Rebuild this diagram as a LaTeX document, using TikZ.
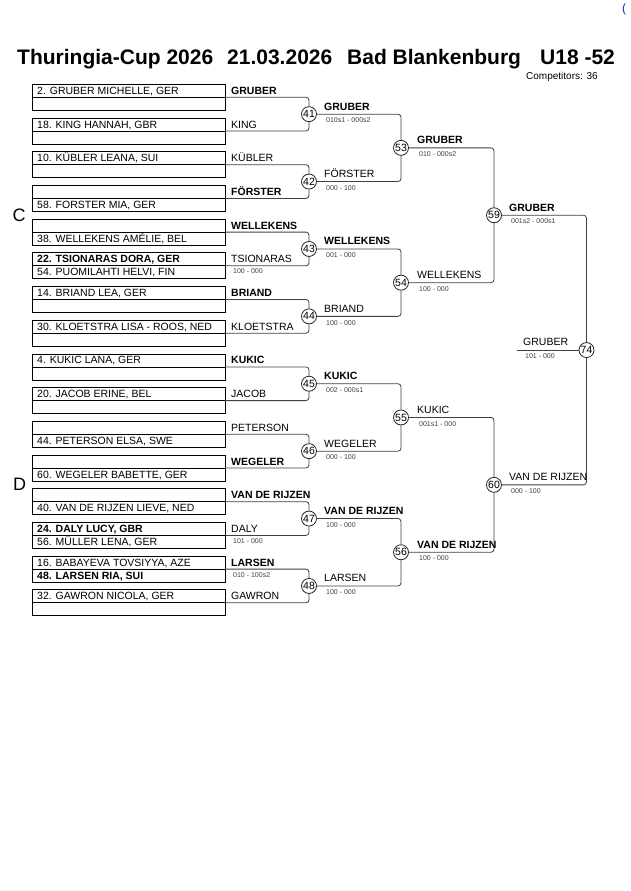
\documentclass[tikz,border=0pt]{standalone}
\usepackage{fontspec}
\setmainfont{Liberation Sans}
\begin{document}
\begin{tikzpicture}[x=1pt,y=-1pt,
  entrybox/.style={draw=black,line width=0.8pt,minimum width=193pt,minimum height=26pt,inner sep=0pt,outer sep=0pt},
  divider/.style={draw=black,line width=0.8pt},
  etext/.style={anchor=base west,inner sep=0pt,font=\fontsize{10.5}{12}\selectfont},
  ebold/.style={anchor=base west,inner sep=0pt,font=\fontsize{10.5}{12}\selectfont\bfseries},
  score/.style={anchor=base west,inner sep=0pt,font=\fontsize{7}{8}\selectfont,text=black!75},
  mcircle/.style={circle,draw=black!85,line width=0.8pt,fill=white,minimum size=15pt,inner sep=0pt,font=\fontsize{10.5}{12}\selectfont},
  bracket/.style={draw=black!75,line width=0.8pt,rounded corners=3pt},
  titletext/.style={anchor=base west,inner sep=0pt,font=\fontsize{21}{24}\selectfont\bfseries},
  pooltext/.style={anchor=base west,inner sep=0pt,font=\fontsize{18}{20}\selectfont},
]
\useasboundingbox (0,0) rectangle (630,891);
\fill[white] (0,0) rectangle (630,891);

% header
\node[anchor=base west,inner sep=0pt,font=\fontsize{12}{14}\selectfont,text={rgb,255:red,20;green,40;blue,190}] (corner) at (622,13) {(};
\node[titletext] (ti1) at (17,65) {Thuringia-Cup 2026};
\node[titletext] (ti2) at (227,65) {21.03.2026};
\node[titletext] (ti3) at (347,65) {Bad Blankenburg};
\node[titletext] (ti4) at (540,65) {U18 -52};
\node[anchor=base west,inner sep=0pt,font=\fontsize{10}{12}\selectfont] (comp) at (526,79.3) {Competitors: 36};
\node[pooltext] (poolC) at (12.5,221) {C};
\node[pooltext] (poolD) at (13,490) {D};

% entry boxes
\foreach \k/\yc in {0/97.3,1/131.0,2/164.7,3/198.4,4/232.1,5/265.8,6/299.5,7/333.2,8/366.9,9/400.6,10/434.3,11/468.0,12/501.7,13/535.4,14/569.1,15/602.8}{
  \node[entrybox] (b\k) at (128.5,\yc) {};
  \draw[divider] (b\k.west) -- (b\k.east);
}

% entry texts
\node[etext] (e0) at (37,94.3) {2. GRUBER MICHELLE, GER};
\node[etext] (e1) at (37,128.0) {18. KING HANNAH, GBR};
\node[etext] (e2) at (37,161.7) {10. KÜBLER LEANA, SUI};
\node[etext] (e3) at (37,208.4) {58. FORSTER MIA, GER};
\node[etext] (e4) at (37,242.1) {38. WELLEKENS AMÉLIE, BEL};
\node[ebold] (e5a) at (37,262.8) {22. TSIONARAS DORA, GER};
\node[etext] (e5b) at (37,275.8) {54. PUOMILAHTI HELVI, FIN};
\node[etext] (e6) at (37,296.5) {14. BRIAND LEA, GER};
\node[etext] (e7) at (37,330.2) {30. KLOETSTRA LISA - ROOS, NED};
\node[etext] (e8) at (37,363.9) {4. KUKIC LANA, GER};
\node[etext] (e9) at (37,397.6) {20. JACOB ERINE, BEL};
\node[etext] (e10) at (37,444.3) {44. PETERSON ELSA, SWE};
\node[etext] (e11) at (37,478.0) {60. WEGELER BABETTE, GER};
\node[etext] (e12) at (37,511.7) {40. VAN DE RIJZEN LIEVE, NED};
\node[ebold] (e13a) at (37,532.4) {24. DALY LUCY, GBR};
\node[etext] (e13b) at (37,545.4) {56. MÜLLER LENA, GER};
\node[etext] (e14a) at (37,566.1) {16. BABAYEVA TOVSIYYA, AZE};
\node[ebold] (e14b) at (37,579.1) {48. LARSEN RIA, SUI};
\node[etext] (e15) at (37,599.8) {32. GAWRON NICOLA, GER};

% first column labels
\node[ebold] (l0) at (231,94.3) {GRUBER};
\node[etext] (l1) at (231,128.0) {KING};
\node[etext] (l2) at (231,161.7) {KÜBLER};
\node[ebold] (l3) at (231,195.4) {FÖRSTER};
\node[ebold] (l4) at (231,229.1) {WELLEKENS};
\node[etext] (l5) at (231,262.8) {TSIONARAS};
\node[score] (s5) at (233,273.8) {100 - 000};
\node[ebold] (l6) at (231,296.5) {BRIAND};
\node[etext] (l7) at (231,330.2) {KLOETSTRA};
\node[ebold] (l8) at (231,363.9) {KUKIC};
\node[etext] (l9) at (231,397.6) {JACOB};
\node[etext] (l10) at (231,431.3) {PETERSON};
\node[ebold] (l11) at (231,465.0) {WEGELER};
\node[ebold] (l12) at (231,498.7) {VAN DE RIJZEN};
\node[etext] (l13) at (231,532.4) {DALY};
\node[score] (s13) at (233,543.4) {101 - 000};
\node[ebold] (l14) at (231,566.1) {LARSEN};
\node[score] (s14) at (233,577.1) {010 - 100s2};
\node[etext] (l15) at (231,599.8) {GAWRON};

% match circles
\node[mcircle] (m41) at (309,114.15) {41};
\node[mcircle] (m42) at (309,181.55) {42};
\node[mcircle] (m43) at (309,248.95) {43};
\node[mcircle] (m44) at (309,316.35) {44};
\node[mcircle] (m45) at (309,383.75) {45};
\node[mcircle] (m46) at (309,451.15) {46};
\node[mcircle] (m47) at (309,518.55) {47};
\node[mcircle] (m48) at (309,585.95) {48};
\node[mcircle] (m53) at (401,147.85) {53};
\node[mcircle] (m54) at (401,282.65) {54};
\node[mcircle] (m55) at (401,417.45) {55};
\node[mcircle] (m56) at (401,552.25) {56};
\node[mcircle] (m59) at (494,215.25) {59};
\node[mcircle] (m60) at (494,484.85) {60};
\node[mcircle] (m74) at (586.5,350.05) {74};

% brackets round 1
\draw[bracket] (b0.east) -| (m41.north);
\draw[bracket] (b1.east) -| (m41.south);
\draw[bracket] (b2.east) -| (m42.north);
\draw[bracket] (b3.east) -| (m42.south);
\draw[bracket] (b4.east) -| (m43.north);
\draw[bracket] (b5.east) -| (m43.south);
\draw[bracket] (b6.east) -| (m44.north);
\draw[bracket] (b7.east) -| (m44.south);
\draw[bracket] (b8.east) -| (m45.north);
\draw[bracket] (b9.east) -| (m45.south);
\draw[bracket] (b10.east) -| (m46.north);
\draw[bracket] (b11.east) -| (m46.south);
\draw[bracket] (b12.east) -| (m47.north);
\draw[bracket] (b13.east) -| (m47.south);
\draw[bracket] (b14.east) -| (m48.north);
\draw[bracket] (b15.east) -| (m48.south);
% round 2
\draw[bracket] (m41.east) -| (m53.north);
\draw[bracket] (m42.east) -| (m53.south);
\draw[bracket] (m43.east) -| (m54.north);
\draw[bracket] (m44.east) -| (m54.south);
\draw[bracket] (m45.east) -| (m55.north);
\draw[bracket] (m46.east) -| (m55.south);
\draw[bracket] (m47.east) -| (m56.north);
\draw[bracket] (m48.east) -| (m56.south);
% round 3
\draw[bracket] (m53.east) -| (m59.north);
\draw[bracket] (m54.east) -| (m59.south);
\draw[bracket] (m55.east) -| (m60.north);
\draw[bracket] (m56.east) -| (m60.south);
% final
\draw[bracket] (m59.east) -| (m74.north);
\draw[bracket] (m60.east) -| (m74.south);
\coordinate (fstart) at (517,350.05);
\draw[bracket] (fstart) -- (m74.west);

% round 2 labels
\node[ebold] (w41) at (324,110.15) {GRUBER};
\node[score] (r41) at (326,122.85) {010s1 - 000s2};
\node[etext] (w42) at (324,177.55) {FÖRSTER};
\node[score] (r42) at (326,190.25) {000 - 100};
\node[ebold] (w43) at (324,244.95) {WELLEKENS};
\node[score] (r43) at (326,257.65) {001 - 000};
\node[etext] (w44) at (324,312.35) {BRIAND};
\node[score] (r44) at (326,325.05) {100 - 000};
\node[ebold] (w45) at (324,379.75) {KUKIC};
\node[score] (r45) at (326,392.45) {002 - 000s1};
\node[etext] (w46) at (324,447.15) {WEGELER};
\node[score] (r46) at (326,459.85) {000 - 100};
\node[ebold] (w47) at (324,514.55) {VAN DE RIJZEN};
\node[score] (r47) at (326,527.25) {100 - 000};
\node[etext] (w48) at (324,581.95) {LARSEN};
\node[score] (r48) at (326,594.65) {100 - 000};
% round 3 labels
\node[ebold] (w53) at (417,143.85) {GRUBER};
\node[score] (r53) at (419,156.55) {010 - 000s2};
\node[etext] (w54) at (417,278.65) {WELLEKENS};
\node[score] (r54) at (419,291.35) {100 - 000};
\node[etext] (w55) at (417,413.45) {KUKIC};
\node[score] (r55) at (419,426.15) {001s1 - 000};
\node[ebold] (w56) at (417,548.25) {VAN DE RIJZEN};
\node[score] (r56) at (419,560.95) {100 - 000};
% round 4 labels
\node[ebold] (w59) at (509,211.25) {GRUBER};
\node[score] (r59) at (511,223.95) {001s2 - 000s1};
\node[etext] (w60) at (509,480.85) {VAN DE RIJZEN};
\node[score] (r60) at (511,493.55) {000 - 100};
% final label
\node[etext] (w74) at (523,345.05) {GRUBER};
\node[score] (r74) at (525,358.35) {101 - 000};
\end{tikzpicture}
\end{document}
